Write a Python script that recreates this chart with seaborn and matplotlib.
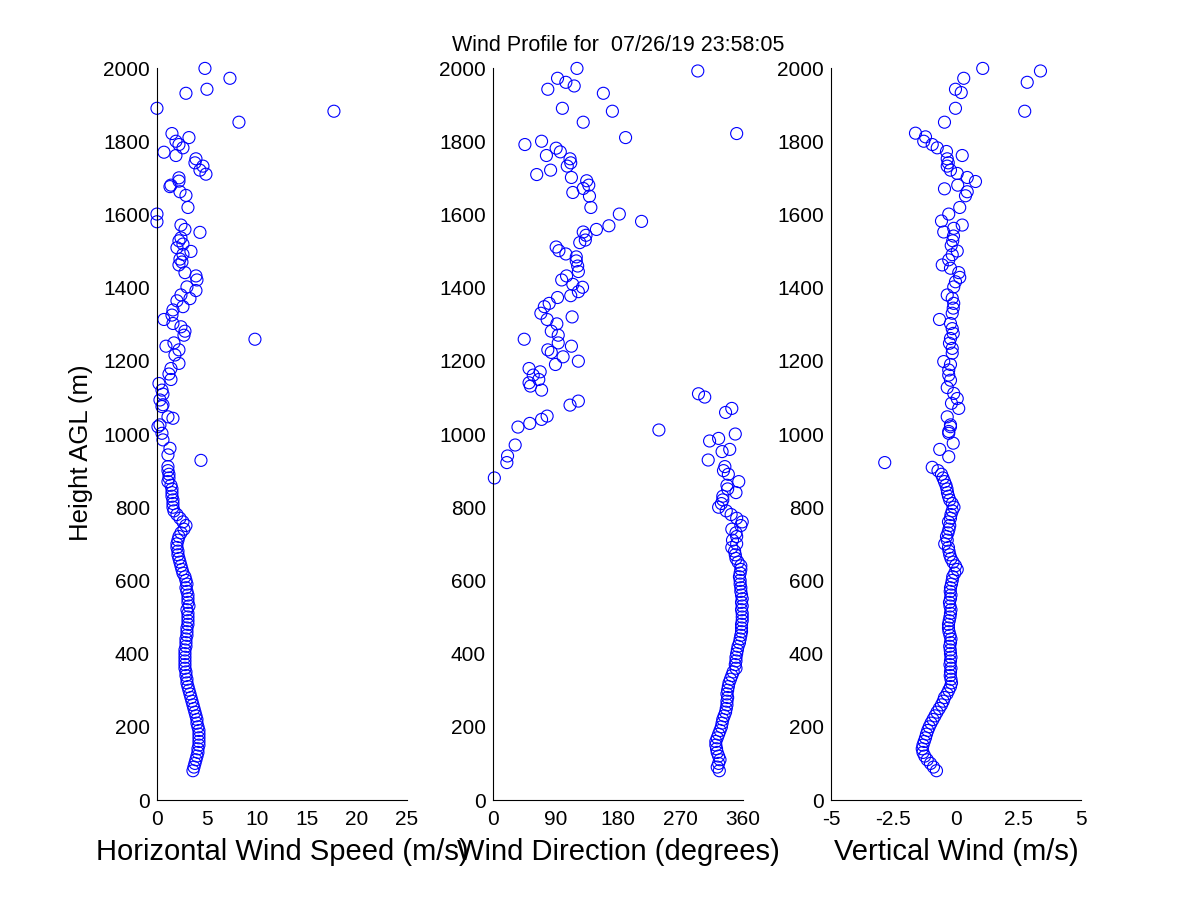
import matplotlib
matplotlib.use("Agg")
import matplotlib.pyplot as plt
import seaborn as sns

# --- Datos: alturas de las puertas bajas (comunes a los tres paneles) ---
heights_low = [80, 90, 100, 110, 120, 130, 140, 150, 160, 170,
               180, 190, 200, 210, 220, 230, 240, 250, 260, 270,
               280, 290, 300, 310, 320, 330, 340, 350, 360, 370,
               380, 390, 400, 410, 420, 430, 440, 450, 460, 470,
               480, 490, 500, 510, 520, 530, 540, 550, 560, 570,
               580, 590, 600, 610, 620, 630, 640, 650, 660, 670,
               680, 690, 700, 710, 720, 730, 740, 750, 760, 770,
               780, 790, 800, 810, 820, 830, 840, 850, 860, 870,
               880, 890, 900]

speed_low = [3.6, 3.7, 3.8, 3.9, 4.0, 4.1, 4.1, 4.2, 4.2, 4.2,
             4.2, 4.2, 4.1, 4.0, 4.0, 3.9, 3.8, 3.7, 3.6, 3.5,
             3.4, 3.3, 3.2, 3.1, 3.0, 3.0, 2.9, 2.9, 2.8, 2.8,
             2.8, 2.8, 2.8, 2.8, 2.9, 2.9, 2.9, 3.0, 3.0, 3.0,
             3.1, 3.1, 3.1, 3.1, 3.0, 3.2, 3.1, 3.1, 3.1, 3.0,
             2.9, 3.0, 2.9, 2.8, 2.6, 2.5, 2.4, 2.3, 2.2, 2.1,
             2.1, 2.0, 2.0, 2.1, 2.2, 2.4, 2.7, 2.9, 2.6, 2.3,
             2.0, 1.7, 1.6, 1.6, 1.6, 1.5, 1.5, 1.5, 1.4, 1.1,
             1.2, 1.2, 1.1]

direction_low = [326, 323, 325, 327, 325, 323, 322, 321, 321, 323,
                 325, 327, 329, 330, 331, 333, 335, 336, 337, 337,
                 338, 337, 338, 339, 340, 342, 344, 346, 350, 349,
                 350, 350, 351, 352, 353, 355, 356, 357, 358, 358,
                 358, 359, 359, 359, 358, 359, 358, 359, 358, 357,
                 357, 356, 356, 355, 356, 357, 357, 353, 350, 349,
                 348, 344, 351, 345, 351, 350, 344, 357, 359, 351,
                 343, 336, 325, 329, 331, 331, 350, 338, 337, 354,
                 2, 339, 332]

vertical_low = [-0.78, -0.90, -1.02, -1.15, -1.25, -1.32, -1.35, -1.32, -1.27, -1.22,
                -1.18, -1.13, -1.07, -1.00, -0.92, -0.84, -0.76, -0.67, -0.58, -0.51,
                -0.46, -0.36, -0.29, -0.22, -0.18, -0.20, -0.23, -0.22, -0.20, -0.24,
                -0.22, -0.20, -0.22, -0.23, -0.25, -0.22, -0.20, -0.24, -0.28, -0.30,
                -0.30, -0.27, -0.24, -0.22, -0.20, -0.24, -0.26, -0.22, -0.20, -0.23,
                -0.22, -0.18, -0.15, -0.13, -0.05, 0.05, -0.02, -0.12, -0.20, -0.25,
                -0.28, -0.30, -0.45, -0.35, -0.38, -0.32, -0.28, -0.25, -0.30, -0.22,
                -0.20, -0.15, -0.08, -0.15, -0.25, -0.30, -0.34, -0.36, -0.40, -0.46,
                -0.52, -0.58, -0.72]

# --- Datos: puertas altas (dispersas) ---
speed_high_h = [911, 928, 943, 961, 984, 1002, 1020, 1025, 1043, 1047, 1075, 1080, 1093,
                1109, 1120, 1138, 1149, 1164, 1179, 1193, 1216, 1230, 1240, 1249, 1259,
                1270, 1281, 1293, 1302, 1313, 1325, 1339, 1348, 1364, 1370, 1380, 1392,
                1402, 1421, 1432, 1441, 1462, 1470, 1478, 1491, 1499, 1509, 1519, 1528,
                1536, 1551, 1559, 1571, 1580, 1601, 1619, 1652, 1662, 1676, 1680, 1691,
                1700, 1710, 1721, 1732, 1741, 1752, 1761, 1770, 1782, 1791, 1800, 1810,
                1821, 1852, 1882, 1890, 1931, 1942, 1972, 1999]
speed_high = [1.1, 4.4, 1.1, 1.3, 0.6, 0.5, 0.1, 0.3, 1.6, 1.1, 0.5, 0.6, 0.3,
              0.6, 0.5, 0.2, 1.4, 1.2, 1.4, 2.2, 1.8, 2.2, 0.9, 1.7, 9.8,
              2.7, 2.8, 2.4, 1.6, 0.7, 1.5, 1.6, 2.6, 2.0, 3.3, 2.4, 3.9,
              3.0, 4.0, 3.9, 2.8, 2.2, 2.5, 2.3, 2.6, 3.4, 2.0, 2.6, 2.2,
              2.4, 4.3, 2.8, 2.4, 0.0, 0.0, 3.1, 2.9, 2.3, 1.3, 1.4, 2.2,
              2.2, 4.9, 4.3, 4.6, 3.8, 3.9, 1.9, 0.7, 2.6, 2.2, 1.9, 3.2,
              1.5, 8.2, 17.7, 0.0, 2.9, 5.0, 7.3, 4.8]

direction_high_h = [911, 922, 929, 940, 952, 958, 970, 981, 988, 1000, 1011, 1019, 1029,
                    1040, 1049, 1059, 1070, 1079, 1090, 1101, 1110, 1120, 1131, 1140, 1149,
                    1161, 1170, 1179, 1190, 1199, 1211, 1223, 1230, 1240, 1249, 1259, 1270,
                    1281, 1301, 1313, 1320, 1330, 1348, 1357, 1373, 1378, 1389, 1401, 1409,
                    1421, 1432, 1444, 1459, 1473, 1484, 1492, 1501, 1511, 1523, 1530, 1543,
                    1552, 1559, 1569, 1581, 1601, 1619, 1650, 1660, 1671, 1680, 1692, 1701,
                    1709, 1721, 1732, 1741, 1752, 1761, 1771, 1781, 1791, 1800, 1810, 1821,
                    1852, 1882, 1890, 1931, 1942, 1951, 1961, 1972, 1992, 1999]
direction_high = [334, 20, 310, 21, 330, 341, 32, 312, 325, 349, 239, 36, 53,
                  70, 78, 335, 344, 111, 123, 305, 296, 70, 54, 52, 66,
                  58, 68, 52, 90, 123, 101, 84, 79, 113, 94, 45, 94,
                  84, 92, 78, 114, 69, 74, 81, 93, 112, 123, 129, 115,
                  99, 106, 123, 122, 120, 120, 105, 95, 91, 125, 133, 134,
                  130, 149, 167, 214, 182, 141, 139, 115, 130, 138, 135, 113,
                  63, 83, 107, 112, 111, 77, 97, 91, 46, 70, 191, 351,
                  130, 172, 100, 159, 79, 117, 105, 93, 295, 121]

vertical_high_h = [909, 922, 938, 958, 975, 1002, 1007, 1020, 1025, 1047, 1070, 1084, 1097,
                   1111, 1127, 1147, 1161, 1175, 1190, 1198, 1221, 1234, 1248, 1261, 1275,
                   1288, 1302, 1313, 1330, 1344, 1357, 1371, 1380, 1402, 1416, 1428, 1441,
                   1453, 1462, 1476, 1490, 1500, 1515, 1528, 1541, 1552, 1562, 1571, 1582,
                   1601, 1619, 1651, 1662, 1670, 1680, 1690, 1701, 1712, 1721, 1732, 1741,
                   1752, 1761, 1772, 1782, 1791, 1800, 1812, 1822, 1852, 1882, 1890, 1933,
                   1942, 1961, 1972, 1992, 1999]
vertical_high = [-0.95, -2.85, -0.29, -0.65, -0.11, -0.29, -0.29, -0.22, -0.22, -0.35, 0.11, -0.18, 0.05,
                 -0.09, -0.35, -0.22, -0.29, -0.29, -0.22, -0.49, -0.15, -0.15, -0.26, -0.22, -0.11,
                 -0.15, -0.22, -0.66, -0.15, -0.11, -0.09, -0.15, -0.35, -0.09, -0.02, 0.15, 0.11,
                 -0.22, -0.55, -0.29, -0.15, 0.05, -0.19, -0.13, -0.10, -0.49, -0.09, 0.25, -0.58,
                 -0.29, 0.15, 0.38, 0.45, -0.46, 0.07, 0.78, 0.45, 0.05, -0.22, -0.35, -0.31,
                 -0.35, 0.25, -0.38, -0.75, -0.95, -1.29, -1.22, -1.62, -0.46, 2.75, -0.02, 0.21,
                 -0.02, 2.85, 0.31, 3.38, 1.07]

title_text = 'Wind Profile for  07/26/19 23:58:05'

# --- Estilo ---
sns.set_theme(style='white')
plt.rcParams['font.family'] = ['Liberation Sans', 'DejaVu Sans']
plt.rcParams['xtick.direction'] = 'in'
plt.rcParams['ytick.direction'] = 'in'
plt.rcParams['axes.edgecolor'] = 'black'
plt.rcParams['axes.linewidth'] = 0.8

fig = plt.figure(figsize=(12, 9), dpi=100, facecolor='white')
lefts = [0.1308, 0.4108, 0.6925]
axes = [fig.add_axes([l, 0.1111, 0.2083, 0.8133]) for l in lefts]

panels = [
    (speed_low + speed_high, heights_low + speed_high_h, (0, 25), [0, 5, 10, 15, 20, 25],
     ['0', '5', '10', '15', '20', '25'], 'Horizontal Wind Speed (m/s)'),
    (direction_low + direction_high, heights_low + direction_high_h, (0, 360), [0, 90, 180, 270, 360],
     ['0', '90', '180', '270', '360'], 'Wind Direction (degrees)'),
    (vertical_low + vertical_high, heights_low + vertical_high_h, (-5, 5), [-5, -2.5, 0, 2.5, 5],
     ['-5', '-2.5', '0', '2.5', '5'], 'Vertical Wind (m/s)'),
]

for ax, (xv, hv, xlim, xt, xtl, xlab) in zip(axes, panels):
    sns.scatterplot(x=xv, y=hv, ax=ax, marker='o', s=75, clip_on=False,
                    facecolor='none', edgecolor='blue', linewidth=0.8)
    ax.set_xlim(*xlim)
    ax.set_ylim(0, 2000)
    ax.set_xticks(xt)
    ax.set_xticklabels(xtl)
    ax.set_yticks(range(0, 2001, 200))
    ax.tick_params(axis='both', labelsize=15, length=5, width=0.8, color='black',
                   labelcolor='black')
    ax.tick_params(axis='x', pad=7)
    ax.tick_params(axis='y', pad=5)
    ax.set_xlabel(xlab, fontsize=21, color='black', labelpad=7)
    ax.set_facecolor('white')
    for side in ['top', 'right']:
        ax.spines[side].set_visible(False)
    ax.grid(False)

axes[0].set_ylabel('Height AGL (m)', fontsize=18.5, color='black')
axes[0].yaxis.set_label_coords(-0.255, 0.474)
axes[1].set_title(title_text, fontsize=15.5, color='black', pad=12)

fig.savefig('out.png', dpi=100, facecolor='white')
